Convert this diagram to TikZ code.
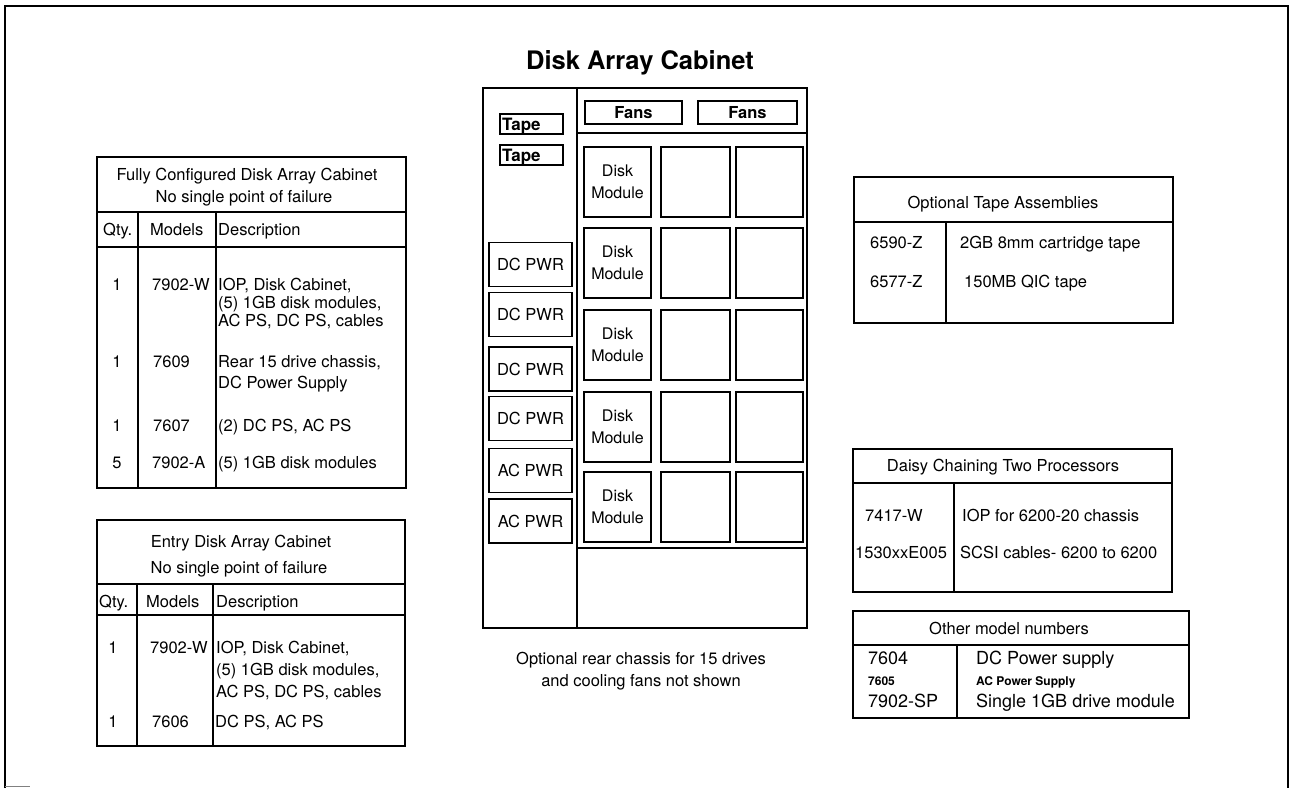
\documentclass[tikz,border=0pt]{standalone}
\usepackage{fontspec}
\setmainfont{TeX Gyre Heros}
\newcommand{\fsN}{\fontsize{16.5}{20}\selectfont}
\newcommand{\fsL}{\fontsize{18}{22}\selectfont}
\newcommand{\fsS}{\fontsize{12}{14}\selectfont}
\newcommand{\fsD}{\fontsize{16}{22.5}\selectfont}
\newcommand{\fsTitle}{\fontsize{25.5}{30}\selectfont\bfseries}
\begin{document}
\begin{tikzpicture}[x=1pt,y=-1pt,
  ln/.style={line width=1.6pt},
  tl/.style={inner sep=0pt, font=\fsN, text height=11.9pt, text depth=0pt, anchor=west},
  tc/.style={tl, anchor=center},
  tlL/.style={inner sep=0pt, font=\fsL, text height=13pt, text depth=0pt, anchor=west},
  tlS/.style={inner sep=0pt, font=\fsS, text height=8.6pt, text depth=0pt, anchor=west},
  unit/.style={draw, line width=1.6pt, inner sep=0pt, font=\fsN},
  disk/.style={unit, minimum height=70pt, align=center, font=\fsD},
  pwr/.style={unit, minimum width=83pt, minimum height=44pt},
  fan/.style={unit, minimum height=23pt, font=\fsN\bfseries},
  tapebox/.style={draw, line width=1.6pt, minimum width=63pt, minimum height=20pt, inner sep=0pt},
  tapetxt/.style={inner sep=0pt, anchor=base west, font=\fontsize{17}{20}\selectfont\bfseries},
]
\useasboundingbox (0,0) rectangle (1291,788);
% outer frame
\draw[line width=1.3pt] (5,788) -- (5,6) -- (1288,6) -- (1288,788);
\draw[line width=0.8pt, gray] (5,786.5) -- (30,786.5);

% ---------- Table 1 ----------
\draw[ln] (97,157) rectangle (406,488);
\draw[ln] (97,212) -- (406,212);
\draw[ln] (97,247) -- (406,247);
\draw[ln] (138,212) -- (138,488);
\draw[ln] (216,212) -- (216,488);
\node[tc] (t1a) at (247,175) {Fully Configured Disk Array Cabinet};
\node[tc] (t1b) at (244,197) {No single point of failure};
\node[tl] (t1q) at (103,230) {Qty.};
\node[tl] (t1m) at (150,230) {Models};
\node[tl] (t1d) at (218,230) {Description};
\node[tc] (t1r1q) at (117,285) {1};
\node[tl] (t1r1m) at (152,285) {7902-W};
\node[tl] (t1r1d1) at (218,285) {IOP, Disk Cabinet,};
\node[tl] (t1r1d2) at (218,303) {(5) 1GB disk modules,};
\node[tl] (t1r1d3) at (218,321) {AC PS, DC PS, cables};
\node[tc] (t1r2q) at (117,362) {1};
\node[tl] (t1r2m) at (153,362) {7609};
\node[tl] (t1r2d1) at (218,362) {Rear 15 drive chassis,};
\node[tl] (t1r2d2) at (218,383) {DC Power Supply};
\node[tc] (t1r3q) at (117,426) {1};
\node[tl] (t1r3m) at (153,426) {7607};
\node[tl] (t1r3d) at (218,426) {(2) DC PS, AC PS};
\node[tc] (t1r4q) at (117,463) {5};
\node[tl] (t1r4m) at (152,463) {7902-A};
\node[tl] (t1r4d) at (218,463) {(5) 1GB disk modules};

% ---------- Table 2 ----------
\draw[ln] (97,520) rectangle (405,746);
\draw[ln] (97,584) -- (405,584);
\draw[ln] (97,615) -- (405,615);
\draw[ln] (137,584) -- (137,746);
\draw[ln] (213,584) -- (213,746);
\node[tc] (t2a) at (241,542) {Entry Disk Array Cabinet};
\node[tc] (t2b) at (239,568) {No single point of failure};
\node[tl] (t2q) at (99,602) {Qty.};
\node[tl] (t2m) at (146,602) {Models};
\node[tl] (t2d) at (216,602) {Description};
\node[tc] (t2r1q) at (113,648) {1};
\node[tl] (t2r1m) at (150,648) {7902-W};
\node[tl] (t2r1d1) at (216,648) {IOP, Disk Cabinet,};
\node[tl] (t2r1d2) at (216,670) {(5) 1GB disk modules,};
\node[tl] (t2r1d3) at (216,692) {AC PS, DC PS, cables};
\node[tc] (t2r2q) at (113,722) {1};
\node[tl] (t2r2m) at (152,722) {7606};
\node[tl] (t2r2d) at (215,722) {DC PS, AC PS};

% ---------- Cabinet ----------
\node[inner sep=0pt, font=\fsTitle] (title) at (640,63) {Disk Array Cabinet};
\draw[ln] (483,88) rectangle (807,628);
\draw[ln] (577,88) -- (577,628);
\draw[ln] (577,133) -- (807,133);
\draw[ln] (577,548) -- (807,548);
\node[fan, minimum width=97pt] (fan1) at (633.5,112.5) {Fans};
\node[fan, minimum width=99pt] (fan2) at (747.5,112.5) {Fans};
\node[tapebox] (tape1) at (531.5,124) {};
\node[tapebox] (tape2) at (531.5,155) {};
\node[tapetxt] (tape1t) at (502,130) {Tape};
\node[tapetxt] (tape2t) at (502,161) {Tape};
\node[pwr] (p1) at (530.5,264.5) {DC PWR};
\node[pwr] (p2) at (530.5,314.5) {DC PWR};
\node[pwr] (p3) at (530.5,369) {DC PWR};
\node[pwr] (p4) at (530.5,418.5) {DC PWR};
\node[pwr] (p5) at (530.5,470.5) {AC PWR};
\node[pwr] (p6) at (530.5,521) {AC PWR};
\foreach \r/\y in {1/182,2/263,3/345,4/427,5/507}{
  \node[disk, minimum width=67pt] (d\r a) at (617.5,\y) {Disk\\Module};
  \node[disk, minimum width=69pt] (d\r b) at (695.5,\y) {};
  \node[disk, minimum width=67pt] (d\r c) at (769.5,\y) {};
}
\node[tc] (cap1) at (641,659) {Optional rear chassis for 15 drives};
\node[tc] (cap2) at (641,681) {and cooling fans not shown};

% ---------- Optional Tape Assemblies ----------
\draw[ln] (854,177) rectangle (1173,323);
\draw[ln] (854,222) -- (1173,222);
\draw[ln] (946,222) -- (946,323);
\node[tc] (ta) at (1003,203) {Optional Tape Assemblies};
\node[tl] (ta1m) at (870,243) {6590-Z};
\node[tl] (ta1d) at (960,243) {2GB 8mm cartridge tape};
\node[tl] (ta2m) at (870,282) {6577-Z};
\node[tl] (ta2d) at (964,282) {150MB QIC tape};

% ---------- Daisy Chaining ----------
\draw[ln] (853,449) rectangle (1172,592);
\draw[ln] (853,483) -- (1172,483);
\draw[ln] (954,483) -- (954,592);
\node[tc] (dc) at (1003,466) {Daisy Chaining Two Processors};
\node[tl] (dc1m) at (865,516) {7417-W};
\node[tl] (dc1d) at (962,516) {IOP for 6200-20 chassis};
\node[tl] (dc2m) at (855,553) {1530xxE005};
\node[tl] (dc2d) at (960,553) {SCSI cables- 6200 to 6200};

% ---------- Other model numbers ----------
\draw[ln] (853,611) rectangle (1189,718);
\draw[ln] (853,645) -- (1189,645);
\draw[ln] (957,645) -- (957,718);
\node[tc] (om) at (1009,629) {Other model numbers};
\node[tlL] (om1m) at (868,658) {7604};
\node[tlL] (om1d) at (976,658) {DC Power supply};
\node[tlS, font=\fsS\bfseries] (om2m) at (868,681) {7605};
\node[tlS, font=\fsS\bfseries] (om2d) at (976,681) {AC Power Supply};
\node[tlL] (om3m) at (868,701) {7902-SP};
\node[tlL] (om3d) at (976,701) {Single 1GB drive module};
\end{tikzpicture}
\end{document}
